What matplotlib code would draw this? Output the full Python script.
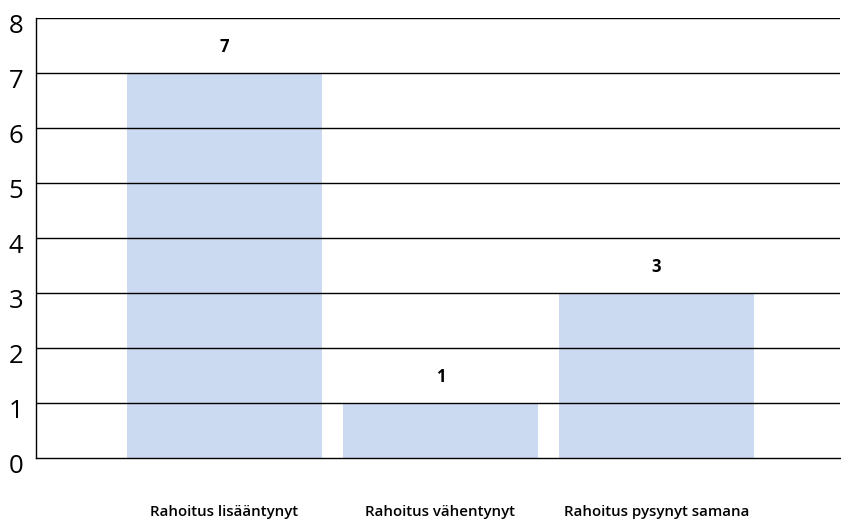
import matplotlib
matplotlib.use("Agg")
import matplotlib.pyplot as plt
import matplotlib.transforms as mtransforms

categories = ["Rahoitus lisääntynyt", "Rahoitus vähentynyt", "Rahoitus pysynyt samana"]
values = [7, 1, 3]
yticks = [0, 1, 2, 3, 4, 5, 6, 7, 8]

plt.rcParams['font.family'] = ['Open Sans', 'DejaVu Sans']

fig = plt.figure(figsize=(8.41, 5.20), dpi=100)
ax = fig.add_axes([36 / 841, 62 / 520, 804 / 841, 440 / 520])

x = list(range(len(categories)))
ax.bar(x, values, width=195 / 216, color='#CBDAF0', zorder=1)

# grid lines at every integer
for t in yticks[1:]:
    ax.axhline(t, color='black', lw=1.0, zorder=2)

for xi, v in zip(x, values):
    ax.text(xi, v + 0.47, str(v), ha='center', va='center',
            fontsize=12, fontweight='bold')

ax.set_xlim(-0.873, 2.85)
ax.set_ylim(0, 8)
ax.set_yticks(yticks)
ax.set_yticklabels([str(t) for t in yticks], fontsize=18.5)
ax.tick_params(axis='y', length=0, pad=9)
# labels sit a little below their grid lines
offset = mtransforms.ScaledTranslation(0, -4 / 72, fig.dpi_scale_trans)
for lab in ax.get_yticklabels():
    lab.set_transform(lab.get_transform() + offset)

ax.set_xticks(x)
ax.set_xticklabels(categories, fontsize=10.8, fontweight='semibold')
ax.tick_params(axis='x', length=0, pad=34)

for s in ['top', 'right']:
    ax.spines[s].set_visible(False)
ax.spines['left'].set_linewidth(1.0)
ax.spines['bottom'].set_linewidth(1.0)

fig.savefig("out.png", dpi=100)
